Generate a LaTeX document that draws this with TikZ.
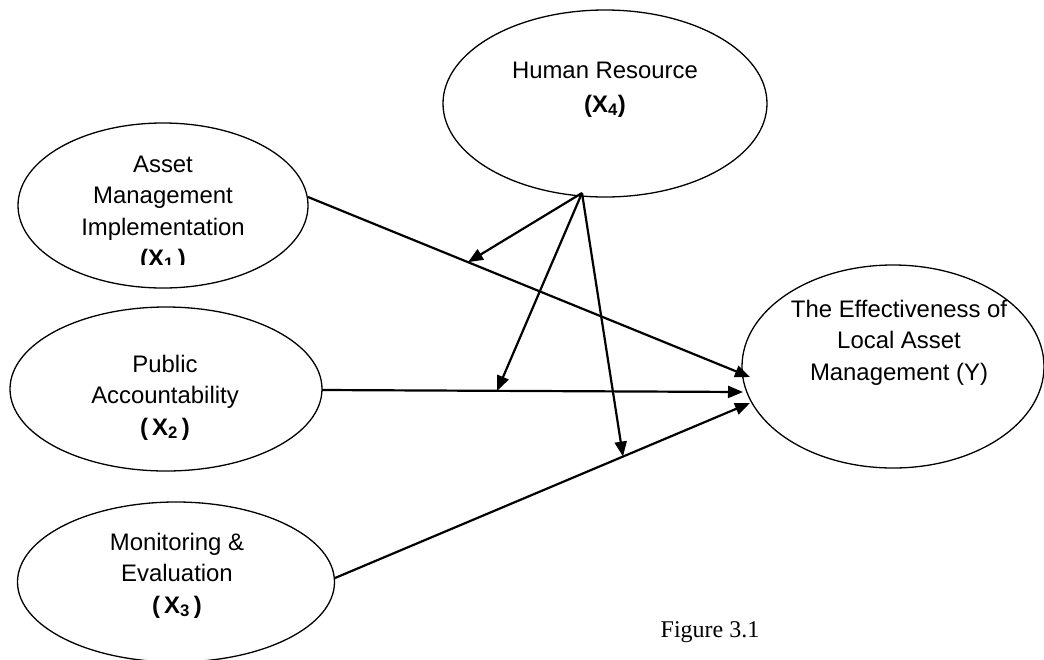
\documentclass[tikz,border=0pt]{standalone}
\usepackage{fontspec}
\setmainfont{Liberation Sans}
\newfontfamily\figfont{Liberation Serif}
\usetikzlibrary{shapes.geometric,arrows.meta}
\begin{document}
\begin{tikzpicture}[x=1pt,y=-1pt,
  var/.style={draw,ellipse,line width=1.3pt,inner sep=0pt},
  lbl/.style={align=center,font=\fontsize{23.9}{31.5}\selectfont,inner sep=0pt,anchor=base},
  link/.style={line width=2.2pt,-{Triangle[length=15pt,width=12pt]}}]
\useasboundingbox (0,0) rectangle (1044,659);
% ellipses
\node[var,minimum width=324pt,minimum height=187pt] (x4) at (605,103.5) {};
\node[var,minimum width=290pt,minimum height=165pt] (x1) at (163,205.5) {};
\node[var,minimum width=312pt,minimum height=164pt] (x2) at (166,389) {};
\node[var,minimum width=317pt,minimum height=160pt] (x3) at (176,582) {};
\node[var,minimum width=302pt,minimum height=203pt] (y) at (893,366.5) {};
% texts (anchor base = baseline of the last line)
\node[lbl] (t4a) at (605,78) {Human Resource};
\node[lbl] (t4b) at (605,112) {\textbf{(X\textsubscript{4})}};
\node[lbl] (t1) at (163,235) {Asset\\Management\\Implementation};
\begin{scope}
\clip (100,240) rectangle (230,264);
\node[lbl] (t1b) at (163,266) {\textbf{(X\textsubscript{1}\,)}};
\end{scope}
\node[lbl] (t2) at (165,435) {Public\\Accountability\\\textbf{(\,X\textsubscript{2}\,)}};
\node[lbl] (t3) at (177,613) {Monitoring \&\\Evaluation\\\textbf{(\,X\textsubscript{3}\,)}};
\node[lbl] (ty) at (899,380) {The Effectiveness of\\Local Asset\\Management (Y)};
\node[inner sep=0pt,anchor=base,font=\figfont\fontsize{24}{28}\selectfont] (fig) at (710,637) {Figure 3.1};
% connector end points
\coordinate (s1) at (308,197);
\coordinate (e1) at (750,377);
\coordinate (s2) at (322,390);
\coordinate (e2) at (743,392);
\coordinate (s3) at (335,578);
\coordinate (e3) at (750,403);
\coordinate (s4) at (582,193);
% main paths
\draw[link] (s1) -- coordinate[pos=0.362] (m1) (e1);
\draw[link] (s2) -- coordinate[pos=0.416] (m2) (e2);
\draw[link] (s3) -- coordinate[pos=0.694] (m3) (e3);
% moderating paths
\draw[link] (s4) -- (m1);
\draw[link] (s4) -- (m2);
\draw[link] (s4) -- (m3);
\end{tikzpicture}
\end{document}
